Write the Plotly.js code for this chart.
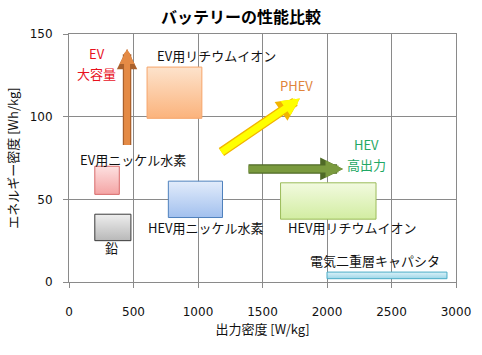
<!DOCTYPE html>
<html><head><meta charset="utf-8">
<script src="https://cdn.plot.ly/plotly-3.0.1.min.js"></script>
<style>html,body{margin:0;padding:0;background:#fff}#c{width:482px;height:355px}</style>
</head><body><div id="c"></div>
<script>
// Battery boxes: power density range [W/kg] and energy density range [Wh/kg]
const categories = ["EV用リチウムイオン", "EV用ニッケル水素", "鉛", "HEV用ニッケル水素", "HEV用リチウムイオン", "電気二重層キャパシタ"];
const powerMin = [605, 200, 200, 770, 1640, 2000];
const powerMax = [1030, 390, 480, 1190, 2380, 2930];
const energyMin = [99, 53, 25, 39, 38, 2];
const energyMax = [130, 70, 41, 61, 60, 6];
// label positions
const labelX = [1147, 496, 333, 1062, 2200, 2372];
const labelY = [137, 74, 21, 33, 33, 13];
// arrows: tail -> tip
const arrowTailX = [450, 1170, 1380];
const arrowTailY = [82, 78, 68.4];
const arrowTipX = [450, 1790, 2124];
const arrowTipY = [141, 111, 68.4];
// arrow captions (one entry per text line), with index of their arrow
const captionText = ["EV", "大容量", "PHEV", "HEV", "高出力"];
const captionArrow = [0, 0, 1, 2, 2];
const captionX = [217, 217, 1767, 2310, 2310];
const captionY = [138.5, 126, 119, 83, 71];

const boxStyle = [
  {top:'#fde3cc', bot:'#fbb37c', line:'#f6a56a'},
  {top:'#fde0e0', bot:'#f4a4a4', line:'#d86a6a'},
  {top:'#eeeeee', bot:'#b8b8b8', line:'#3a3a3a'},
  {top:'#e2ecfb', bot:'#a2c0ee', line:'#4f81bd'},
  {top:'#f2fadf', bot:'#d2eda2', line:'#9bbb59'},
  {top:'#dcf2f9', bot:'#9cd6e8', line:'#4bacc6'}
];
const arrowStyle = [
  {fill:'#e48a45', edge:'#a9602c', w:6, bw:8.5, color:'#e8111d'},
  {fill:'#ffff00', edge:'#f2b400', w:7, bw:9.5, color:'#e0843a'},
  {fill:'#7a9a3e', edge:'#4f6a26', w:7, bw:9.5, color:'#1fa865'}
];

const traces = categories.map((n, i) => ({
  type: 'scatter', mode: 'lines', name: n, hoverinfo: 'name',
  x: [powerMin[i], powerMax[i], powerMax[i], powerMin[i], powerMin[i]],
  y: [energyMin[i], energyMin[i], energyMax[i], energyMax[i], energyMin[i]],
  fill: 'toself',
  fillgradient: {type: 'vertical', colorscale: [[0, boxStyle[i].bot], [1, boxStyle[i].top]]},
  line: {color: boxStyle[i].line, width: 1}
}));

const ann = [];
categories.forEach((n, i) => ann.push({
  x: labelX[i], y: labelY[i], xref: 'x', yref: 'y', text: n, showarrow: false,
  font: {size: 13, color: '#111', family: 'Noto Sans CJK JP'}
}));
for (let pass = 0; pass < 2; pass++) {
  arrowTipX.forEach((t, i) => {
    const s = arrowStyle[i];
    ann.push({
      x: arrowTipX[i], y: arrowTipY[i], ax: arrowTailX[i], ay: arrowTailY[i],
      xref: 'x', yref: 'y', axref: 'x', ayref: 'y', text: '', showarrow: true,
      arrowhead: 2, arrowsize: pass ? 0.5 : 0.48, arrowwidth: pass ? s.w : s.bw,
      arrowcolor: pass ? s.fill : s.edge
    });
  });
}
captionText.forEach((n, i) => ann.push({
  x: captionX[i], y: captionY[i], xref: 'x', yref: 'y', text: n, showarrow: false,
  font: {size: 13, color: arrowStyle[captionArrow[i]].color, family: 'Noto Sans CJK JP'}
}));

const layout = {
  width: 482, height: 355,
  margin: {l: 69, r: 26, t: 34, b: 73},
  paper_bgcolor: '#fff', plot_bgcolor: '#fff',
  showlegend: false,
  title: {text: '<b>バッテリーの性能比較</b>', x: 0.5, xanchor: 'center', y: 0.952, yanchor: 'middle',
    font: {size: 16, family: 'Noto Sans CJK JP', color: '#000'}},
  xaxis: {range: [0, 3000], dtick: 500, showgrid: true, gridcolor: '#8a8a8a', zeroline: false,
    showline: true, mirror: true, linecolor: '#8a8a8a', ticks: 'outside', ticklen: 5, tickcolor: '#8a8a8a',
    ticklabelstandoff: 14,
    tickfont: {size: 12, family: 'DejaVu Sans', color: '#111'},
    title: {text: '出力密度 [W/kg]', standoff: 6, font: {size: 13, family: 'Noto Sans CJK JP', color: '#111'}}},
  yaxis: {range: [0, 150], dtick: 50, showgrid: true, gridcolor: '#8a8a8a', zeroline: false,
    showline: true, mirror: true, linecolor: '#8a8a8a', ticks: 'outside', ticklen: 5, tickcolor: '#8a8a8a',
    ticklabelstandoff: 8,
    tickfont: {size: 12, family: 'DejaVu Sans', color: '#111'},
    title: {text: 'エネルギー密度 [Wh/kg]', standoff: 8, font: {size: 13, family: 'Noto Sans CJK JP', color: '#111'}}},
  annotations: ann
};
Plotly.newPlot('c', traces, layout, {displayModeBar: false, staticPlot: true});
</script></body></html>
